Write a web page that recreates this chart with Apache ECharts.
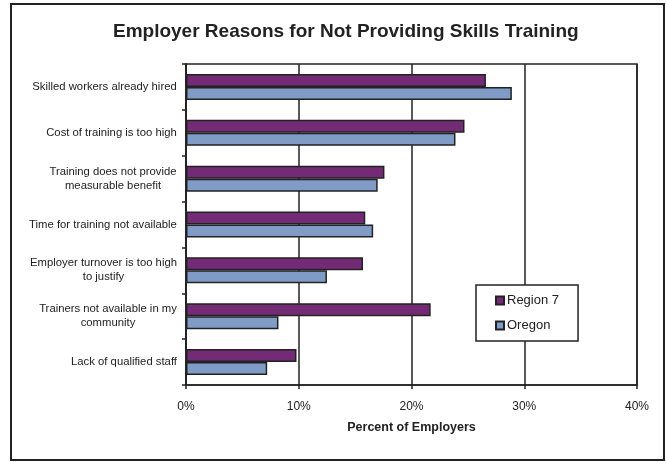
<!DOCTYPE html>
<html>
<head>
<meta charset="utf-8">
<script src="https://cdn.jsdelivr.net/npm/echarts@6/dist/echarts.min.js"></script>
<style>
  html, body { margin: 0; padding: 0; background: #fff; }
  #chart { width: 666px; height: 462px; }
</style>
</head>
<body>
<div id="chart"></div>
<script>
// Survey reasons, top to bottom
const categories = [
  'Skilled workers already hired',
  'Cost of training is too high',
  'Training does not provide\nmeasurable benefit',
  'Time for training not available',
  'Employer turnover is too high\nto justify',
  'Trainers not available in my\ncommunity',
  'Lack of qualified staff'
];
// Percent of employers citing each reason
const region7 = [26.6, 24.7, 17.6, 15.9, 15.7, 21.7, 9.8];
const oregon  = [28.9, 23.9, 17.0, 16.6, 12.5, 8.2, 7.2];
const seriesNames = ['Region 7', 'Oregon'];

const FONT = '"Liberation Sans", Arial, sans-serif';
const INK = '#222';
const CAT_FONT_SIZE = 11.3;

// Multi-line category labels: block sits right against the axis,
// while each line is centred inside the block.
const measureCtx = document.createElement('canvas').getContext('2d');
measureCtx.font = CAT_FONT_SIZE + 'px ' + FONT;
const richStyles = {};
categories.forEach((c, i) => {
  const w = Math.ceil(Math.max(...c.split('\n').map(s => measureCtx.measureText(s).width)));
  richStyles['c' + i] = { width: w, align: 'center', fontFamily: FONT, fontSize: CAT_FONT_SIZE, color: INK, lineHeight: 14 };
});

const chart = echarts.init(document.getElementById('chart'), null, { renderer: 'canvas' });

chart.setOption({
  animation: false,
  backgroundColor: '#fff',
  title: {
    text: 'Employer Reasons for Not Providing Skills Training',
    left: 108,
    top: 17,
    textStyle: { fontFamily: FONT, fontSize: 19, fontWeight: 'bold', color: INK }
  },
  graphic: [{
    type: 'rect',
    shape: { x: 11, y: 4, width: 653, height: 456 },
    style: { fill: null, stroke: INK, lineWidth: 2 },
    silent: true,
    z: 0
  }],
  legend: {
    orient: 'vertical',
    left: 476,
    top: 285,
    padding: [9, 19, 9, 19],
    icon: 'rect',
    itemWidth: 8,
    itemHeight: 8,
    itemGap: 12,
    backgroundColor: '#fff',
    borderColor: INK,
    borderWidth: 1.5,
    borderRadius: 0,
    textStyle: { fontFamily: FONT, fontSize: 13, color: INK, padding: [0, 0, 0, -2] },
    data: seriesNames
  },
  grid: {
    left: 186, right: 29, top: 64, bottom: 77,
    show: true,
    borderColor: INK,
    borderWidth: 1.5,
    backgroundColor: '#fff'
  },
  xAxis: {
    type: 'value',
    min: 0, max: 40, interval: 10,
    name: 'Percent of Employers',
    nameLocation: 'middle',
    nameGap: 36,
    nameTextStyle: { fontFamily: FONT, fontSize: 12.5, fontWeight: 'bold', color: INK },
    axisLine: { show: true, lineStyle: { color: INK, width: 1.5 } },
    axisTick: { show: true, length: 4, lineStyle: { color: INK, width: 1.5 } },
    axisLabel: { formatter: '{value}%', fontFamily: FONT, fontSize: 12, color: INK, margin: 16 },
    splitLine: { show: true, lineStyle: { color: INK, width: 1.5 } }
  },
  yAxis: {
    type: 'category',
    inverse: true,
    data: categories,
    axisLine: { show: true, lineStyle: { color: INK, width: 1.5 } },
    axisTick: { show: true, length: 4, lineStyle: { color: INK, width: 1.5 } },
    axisLabel: {
      fontFamily: FONT, fontSize: CAT_FONT_SIZE, color: INK, margin: 9, lineHeight: 14, align: 'right',
      formatter: (value, index) => value.split('\n').map(s => '{c' + index + '|' + s + '}').join('\n'),
      rich: richStyles
    },
    splitLine: { show: false }
  },
  series: [
    {
      name: seriesNames[0],
      type: 'bar',
      data: region7,
      barWidth: 13,
      barGap: '0%',
      itemStyle: { color: '#742b75', borderColor: INK, borderWidth: 1.5 }
    },
    {
      name: seriesNames[1],
      type: 'bar',
      data: oregon,
      barWidth: 13,
      barGap: '0%',
      itemStyle: { color: '#7f9bc6', borderColor: INK, borderWidth: 1.5 }
    }
  ]
});
</script>
</body>
</html>
